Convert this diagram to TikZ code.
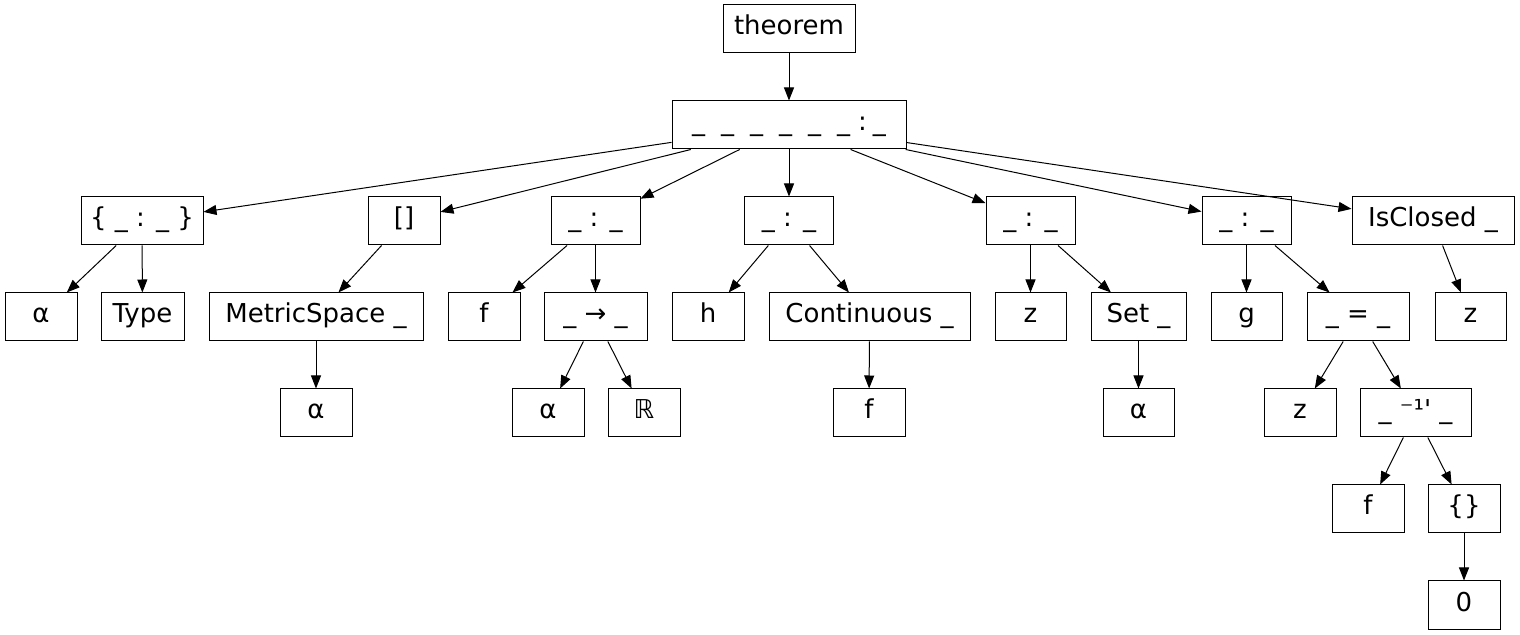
\documentclass[tikz,border=0pt]{standalone}
\usepackage{fontspec}
\setmainfont{DejaVu Sans}
\usetikzlibrary{arrows.meta}

\begin{document}
\begin{tikzpicture}[x=0.5pt, y=-0.5pt,
    box/.style={draw, line width=0.5pt, inner sep=0pt, minimum height=24pt,
        text height=9pt, text depth=3pt, font=\fontsize{13}{15}\selectfont},
    wd/.style={minimum width=#1*0.5pt},
    edge/.style={line width=0.5pt, -{Triangle[length=6.5pt,width=5pt]}}]

    \useasboundingbox (0,0) rectangle (1520,635);

    % top
    \node[box, wd=132] (thm) at (789,29) {theorem};
    \node[box, wd=234] (decl) at (789,125)
        {\_\hspace{8pt}\_\hspace{8pt}\_\hspace{8pt}\_\hspace{8pt}\_\hspace{8pt}\_\hspace{4pt}:\hspace{3pt}\_};

    % binders and type
    \node[box, wd=122] (bind) at (142,221) {\{ \_ : \_ \}};
    \node[box, wd=72] (inst) at (404,221) {[]};
    \node[box, wd=89] (sigf) at (595.5,221) {\_ : \_};
    \node[box, wd=89] (sigh) at (789,221) {\_ : \_};
    \node[box, wd=89] (sigz) at (1030.5,221) {\_ : \_};
    \node[box, wd=89] (sigg) at (1246.5,221) {\_ : \_};
    \node[box, wd=162] (closed) at (1433,221) {IsClosed \_};

    % third row
    \node[box, wd=72] (alphaA) at (41,317) {α};
    \node[box, wd=83] (type) at (142.5,317) {Type};
    \node[box, wd=214] (metric) at (316,317) {MetricSpace \_};
    \node[box, wd=72] (fA) at (484,317) {f};
    \node[box, wd=103] (fun) at (595.5,317) {\_ → \_};
    \node[box, wd=72] (hA) at (708,317) {h};
    \node[box, wd=201] (cont) at (869.5,317) {Continuous \_};
    \node[box, wd=71] (zA) at (1030.5,317) {z};
    \node[box, wd=95] (setz) at (1138.5,317) {Set \_};
    \node[box, wd=71] (gA) at (1246.5,317) {g};
    \node[box, wd=102] (eqn) at (1358,317) {\_ = \_};
    \node[box, wd=71] (zB) at (1470.5,317) {z};

    % fourth row
    \node[box, wd=72] (alphaB) at (316,413) {α};
    \node[box, wd=72] (alphaC) at (548,413) {α};
    \node[box, wd=72] (reals) at (644,413) {ℝ};
    \node[box, wd=72] (fB) at (869,413) {f};
    \node[box, wd=71] (alphaD) at (1138.5,413) {α};
    \node[box, wd=72] (zC) at (1300,413) {z};
    \node[box, wd=111] (preimg) at (1415.5,413) {\_ ⁻¹\textquotesingle{} \_};

    % bottom
    \node[box, wd=72] (fC) at (1368,509) {f};
    \node[box, wd=72] (empty) at (1464,509) {\{\}};
    \node[box, wd=72] (zero) at (1464,605) {0};

    % edges
    \draw[edge] (thm) -- (decl);
    \foreach \t in {bind,inst,sigf,sigh,sigz,sigg,closed}
        \draw[edge] (decl) -- (\t);
    \draw[edge] (bind) -- (alphaA);
    \draw[edge] (bind) -- (type);
    \draw[edge] (inst) -- (metric);
    \draw[edge] (sigf) -- (fA);
    \draw[edge] (sigf) -- (fun);
    \draw[edge] (sigh) -- (hA);
    \draw[edge] (sigh) -- (cont);
    \draw[edge] (sigz) -- (zA);
    \draw[edge] (sigz) -- (setz);
    \draw[edge] (sigg) -- (gA);
    \draw[edge] (sigg) -- (eqn);
    \draw[edge] (closed) -- (zB);
    \draw[edge] (metric) -- (alphaB);
    \draw[edge] (fun) -- (alphaC);
    \draw[edge] (fun) -- (reals);
    \draw[edge] (cont) -- (fB);
    \draw[edge] (setz) -- (alphaD);
    \draw[edge] (eqn) -- (zC);
    \draw[edge] (eqn) -- (preimg);
    \draw[edge] (preimg) -- (fC);
    \draw[edge] (preimg) -- (empty);
    \draw[edge] (empty) -- (zero);

\end{tikzpicture}
\end{document}
